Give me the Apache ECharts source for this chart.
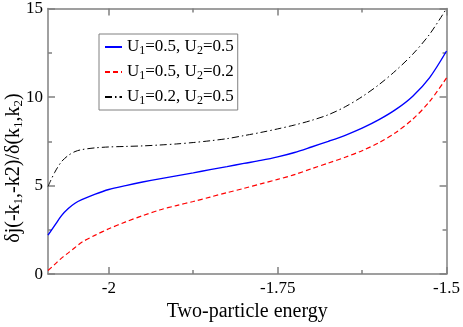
<!DOCTYPE html>
<html>
<head>
<meta charset="utf-8">
<script src="https://cdn.jsdelivr.net/npm/echarts@6/dist/echarts.min.js"></script>
<style>
  html, body { margin: 0; padding: 0; background: #fff; }
  #chart { width: 463px; height: 327px; }
</style>
</head>
<body>
<div id="chart"></div>
<script>
// energies
const xVals = [-2.09, -2.08, -2.07, -2.06, -2.05, -2.04, -2.02, -2.0, -1.975, -1.95, -1.925, -1.9, -1.875, -1.85,
  -1.825, -1.8, -1.775, -1.75, -1.725, -1.7, -1.675, -1.65, -1.625, -1.6, -1.575, -1.55, -1.525, -1.5];
// U1=0.5, U2=0.5
const blueVals = [2.2, 2.75, 3.3, 3.7, 4.0, 4.2, 4.52, 4.78, 5.0, 5.2, 5.38, 5.55, 5.72, 5.9,
  6.07, 6.25, 6.42, 6.62, 6.87, 7.18, 7.5, 7.84, 8.24, 8.72, 9.3, 10.05, 11.1, 12.6];
// U1=0.5, U2=0.2
const redVals = [0.2, 0.55, 0.9, 1.2, 1.5, 1.8, 2.2, 2.56, 2.95, 3.3, 3.62, 3.87, 4.1, 4.35,
  4.6, 4.84, 5.1, 5.35, 5.62, 5.95, 6.27, 6.6, 6.97, 7.42, 8.0, 8.75, 9.75, 11.08];
// U1=0.2, U2=0.5
const blackVals = [4.95, 5.75, 6.35, 6.7, 6.92, 7.03, 7.13, 7.18, 7.21, 7.24, 7.29, 7.35, 7.43, 7.53,
  7.65, 7.82, 8.0, 8.2, 8.42, 8.68, 9.0, 9.45, 10.02, 10.7, 11.5, 12.42, 13.55, 15.0];

const u1Vals = ["0.5", "0.5", "0.2"];
const u2Vals = ["0.5", "0.2", "0.5"];

const xMajorTicks = [-2, -1.75, -1.5];
const xMinorTicks = [-1.875, -1.625];
const xMin = -2.09;
const xMax = -1.5;

const font = "Liberation Serif";
const frameColor = "#808080";

const names = u1Vals.map((u1, i) => "U1=" + u1 + ", U2=" + u2Vals[i]);
const richNames = {};
u1Vals.forEach((u1, i) => {
  richNames[names[i]] = "{n|U}{s|1}{n|=" + u1 + ", U}{s|2}{n|=" + u2Vals[i] + "}";
});

const pairs = (ys) => xVals.map((x, i) => [x, ys[i]]);

const chart = echarts.init(document.getElementById("chart"));

// x 轴：主刻度、次刻度，上下各一条
const xAxisBase = (pos, ticks, len, withLabel, withLine) => ({
  type: "value",
  position: pos,
  min: xMin,
  max: xMax,
  splitLine: { show: false },
  axisLine: { show: withLine, onZero: false, lineStyle: { color: frameColor, width: 1.5 } },
  axisTick: { show: true, inside: true, length: len, customValues: ticks, lineStyle: { color: frameColor, width: 1.5 } },
  axisLabel: {
    show: withLabel,
    customValues: ticks,
    margin: 6,
    color: "#000",
    fontFamily: font,
    fontSize: 17,
    formatter: (v) => String(v),
  },
});

const xBottom = xAxisBase("bottom", xMajorTicks, 7, true, true);
xBottom.name = "Two-particle energy";
xBottom.nameLocation = "middle";
xBottom.nameGap = 21;
xBottom.nameTextStyle = { color: "#000", fontFamily: font, fontSize: 20 };

const yAxisBase = (pos, withLabel) => ({
  type: "value",
  position: pos,
  min: 0,
  max: 15,
  interval: 5,
  splitLine: { show: false },
  axisLine: { show: true, onZero: false, lineStyle: { color: frameColor, width: 1.5 } },
  axisTick: { show: true, inside: true, length: 7, lineStyle: { color: frameColor, width: 1.5 } },
  minorTick: { show: true, splitNumber: 2, length: 4, lineStyle: { color: frameColor, width: 1.5 } },
  axisLabel: { show: withLabel, margin: 5, color: "#000", fontFamily: font, fontSize: 17 },
});

const lineSeries = (i, ys, color, type, width) => ({
  name: names[i],
  type: "line",
  xAxisIndex: 0,
  yAxisIndex: 0,
  data: pairs(ys),
  smooth: 0.3,
  symbol: "none",
  lineStyle: { color: color, width: width, type: type },
  itemStyle: { color: color },
});

const option = {
  backgroundColor: "#fff",
  animation: false,
  grid: { left: 48, right: 14.5, top: 6.5, bottom: 39 },
  legend: {
    orient: "vertical",
    left: 99,
    top: 34,
    padding: [3, 4, 3, 5],
    borderColor: frameColor,
    borderWidth: 1,
    backgroundColor: "#fff",
    itemWidth: 17,
    itemHeight: 10,
    itemGap: 5,
    data: names,
    itemStyle: { opacity: 0 },
    formatter: (name) => richNames[name],
    textStyle: {
      color: "#000",
      fontFamily: font,
      fontSize: 17,
      rich: {
        n: { fontFamily: font, fontSize: 17, lineHeight: 18, color: "#000" },
        s: { fontFamily: font, fontSize: 12, lineHeight: 18, padding: [8, 0, 0, 0], color: "#000" },
      },
    },
  },
  xAxis: [
    xBottom,
    xAxisBase("bottom", xMinorTicks, 4, false, false),
    xAxisBase("top", xMajorTicks, 7, false, true),
    xAxisBase("top", xMinorTicks, 4, false, false),
  ],
  yAxis: [yAxisBase("left", true), yAxisBase("right", false)],
  graphic: [
    {
      type: "text",
      x: 14,
      y: 168,
      rotation: Math.PI / 2,
      style: {
        text: "{n|δj(-k}{s|1}{n|,-k2)/δ(k}{s|1}{n|,k}{s|2}{n|)}",
        align: "center",
        verticalAlign: "middle",
        fontFamily: font,
        rich: {
          n: { fontFamily: font, fontSize: 20, lineHeight: 24, fill: "#000" },
          s: { fontFamily: font, fontSize: 13, lineHeight: 24, padding: [10, 0, 0, 0], fill: "#000" },
        },
      },
    },
  ],
  series: [
    lineSeries(0, blueVals, "#0000ff", "solid", 1.4),
    lineSeries(1, redVals, "#ff0000", [5, 3], 1.2),
    lineSeries(2, blackVals, "#000000", [7, 3, 1.5, 3], 1),
  ],
};

chart.setOption(option);

window.addEventListener("resize", () => chart.resize());
</script>
</body>
</html>
